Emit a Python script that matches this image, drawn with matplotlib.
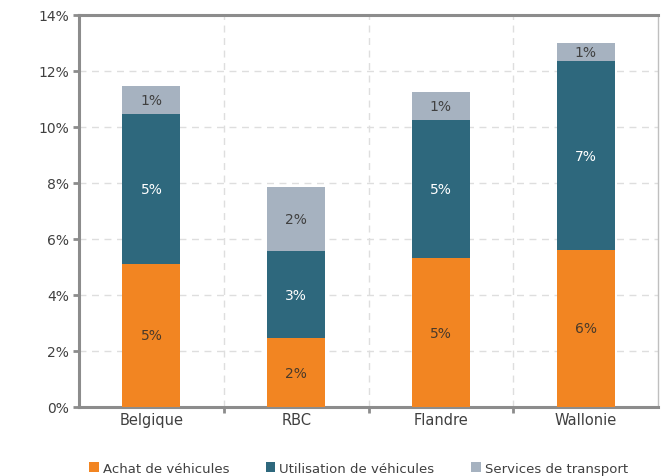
import matplotlib
matplotlib.use("Agg")
import matplotlib.pyplot as plt
import numpy as np

# Données (en %)
regions = ["Belgique", "RBC", "Flandre", "Wallonie"]
achat = [5.1, 2.45, 5.3, 5.6]
utilisation = [5.35, 3.1, 4.95, 6.75]
services = [1.0, 2.3, 1.0, 0.65]
noms_series = ["Achat de véhicules", "Utilisation de véhicules", "Services de transport"]

couleurs = ["#F28522", "#2E687D", "#A6B2C0"]
couleurs_texte = ["#4a3a2a", "white", "#404040"]
gris = "#8c8c8c"

plt.rcParams['font.family'] = ['DejaVu Sans']

fig = plt.figure(figsize=(6.64, 4.77), dpi=100)
ax = fig.add_axes([0.119, 0.145, 0.872, 0.8215])

x = np.arange(len(regions))
bas = np.zeros(len(regions))
for valeurs, nom, coul, ct in zip([achat, utilisation, services], noms_series, couleurs, couleurs_texte):
    ax.bar(x, valeurs, width=0.4, bottom=bas, color=coul, label=nom, zorder=3)
    for xi, b, v in zip(x, bas, valeurs):
        ax.text(xi, b + v / 2, f"{round(v):.0f}%", ha="center", va="center",
                color=ct, fontsize=10, zorder=4)
    bas = bas + np.array(valeurs)

ax.set_xlim(-0.5, len(regions) - 0.5)
ax.set_ylim(0, 14)
ax.set_yticks(np.arange(0, 15, 2))
ax.set_yticklabels([f"{v}%" for v in range(0, 15, 2)], fontsize=10, color="#404040")
ax.set_xticks(x)
ax.set_xticklabels(regions, fontsize=10.5, color="#404040")
ax.tick_params(axis="x", length=0, pad=4)
ax.set_xticks(np.arange(0.5, len(regions) - 0.5, 1), minor=True)
ax.tick_params(axis="x", which="minor", length=4, width=2, color=gris, direction="out")
ax.tick_params(axis="y", length=4, width=2, color=gris, direction="out", pad=3)

# Grilles pointillées
ax.grid(axis="y", linestyle=(0, (5, 4)), color="#dedede", linewidth=1, zorder=0)
for xv in np.arange(0.5, len(regions) - 0.5, 1):
    ax.axvline(xv, linestyle=(0, (5, 4)), color="#dedede", linewidth=1, zorder=0)

for cote in ["left", "top", "bottom"]:
    ax.spines[cote].set_color(gris)
    ax.spines[cote].set_linewidth(2.2)
ax.spines["right"].set_color("#bfbfbf")
ax.spines["right"].set_linewidth(1)

fig.legend(loc="lower center", bbox_to_anchor=(0.54, -0.022), ncol=3, frameon=False,
           fontsize=9.5, handlelength=0.7, handleheight=0.7, handletextpad=0.3,
           columnspacing=2.8, labelcolor="#404040")

plt.savefig("out.png", dpi=100)
